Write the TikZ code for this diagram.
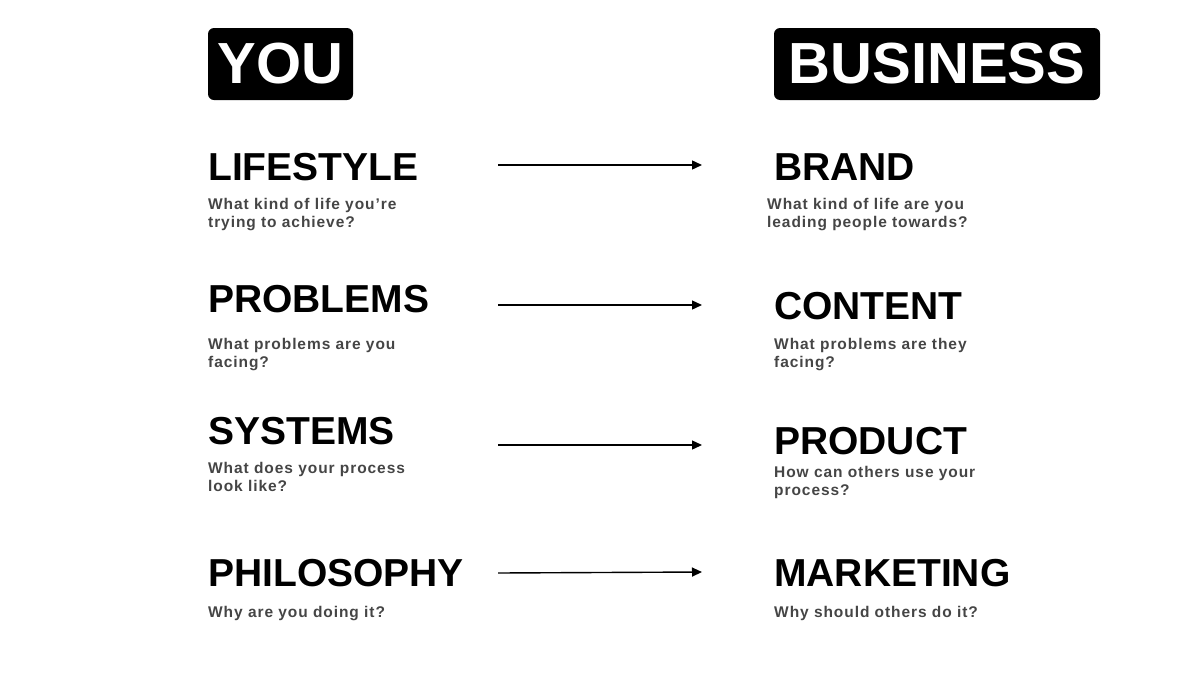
\documentclass[tikz,border=0pt]{standalone}
\usepackage{fontspec}
\setmainfont{Liberation Sans}
\newfontfamily\subfont[LetterSpace=6]{Liberation Sans}
\usetikzlibrary{arrows.meta}
\definecolor{subgray}{HTML}{454545}
\tikzset{
  x=1pt,y=-1pt,
  tagbox/.style={fill=black,rounded corners=6pt,inner sep=0pt,text=white,font=\fontsize{58}{58}\selectfont\bfseries},
  heading/.style={anchor=base west,inner sep=0pt,font=\fontsize{39}{39}\selectfont\bfseries,text=black},
  sub/.style={anchor=base west,inner sep=0pt,align=left,text=subgray,font=\subfont\fontsize{15.5}{18.8}\selectfont\bfseries}
  ,conn/.style={line width=1.4pt,-{Triangle[length=10pt,width=9pt]}}
}
\begin{document}
\begin{tikzpicture}
\useasboundingbox (0,0) rectangle (1200,675);
% header boxes
\node[tagbox,minimum width=145pt,minimum height=72pt] (you) at (280.5,64) {YOU};
\node[tagbox,minimum width=326pt,minimum height=72pt] (business) at (937,64) {BUSINESS};
% left column
\node[heading] (lifestyle) at (208,180) {LIFESTYLE};
\node[sub] (lifestyleq) at (208,227.8) {What kind of life you’re\\trying to achieve?};
\node[heading] (problems) at (208,312) {PROBLEMS};
\node[sub] (problemsq) at (208,367.8) {What problems are you\\facing?};
\node[heading] (systems) at (208,444) {SYSTEMS};
\node[sub] (systemsq) at (208,491.8) {What does your process\\look like?};
\node[heading] (philosophy) at (208,586) {PHILOSOPHY};
\node[sub] (philosophyq) at (208,617) {Why are you doing it?};
% right column
\node[heading] (brand) at (774,180) {BRAND};
\node[sub] (brandq) at (767,227.8) {What kind of life are you\\leading people towards?};
\node[heading] (content) at (774,319) {CONTENT};
\node[sub] (contentq) at (774,367.8) {What problems are they\\facing?};
\node[heading] (product) at (774,454) {PRODUCT};
\node[sub] (productq) at (774,495.8) {How can others use your\\process?};
\node[heading] (marketing) at (774,586) {MARKETING};
\node[sub] (marketingq) at (774,617) {Why should others do it?};
% connectors
\coordinate (a1s) at (498,165); \coordinate (a1e) at (702,165);
\coordinate (a2s) at (498,305); \coordinate (a2e) at (702,305);
\coordinate (a3s) at (498,445); \coordinate (a3e) at (702,445);
\coordinate (a4s) at (498,573); \coordinate (a4e) at (702,572);
\draw[conn] (a1s) -- (a1e);
\draw[conn] (a2s) -- (a2e);
\draw[conn] (a3s) -- (a3e);
\draw[conn] (a4s) -- (a4e);
\end{tikzpicture}
\end{document}
